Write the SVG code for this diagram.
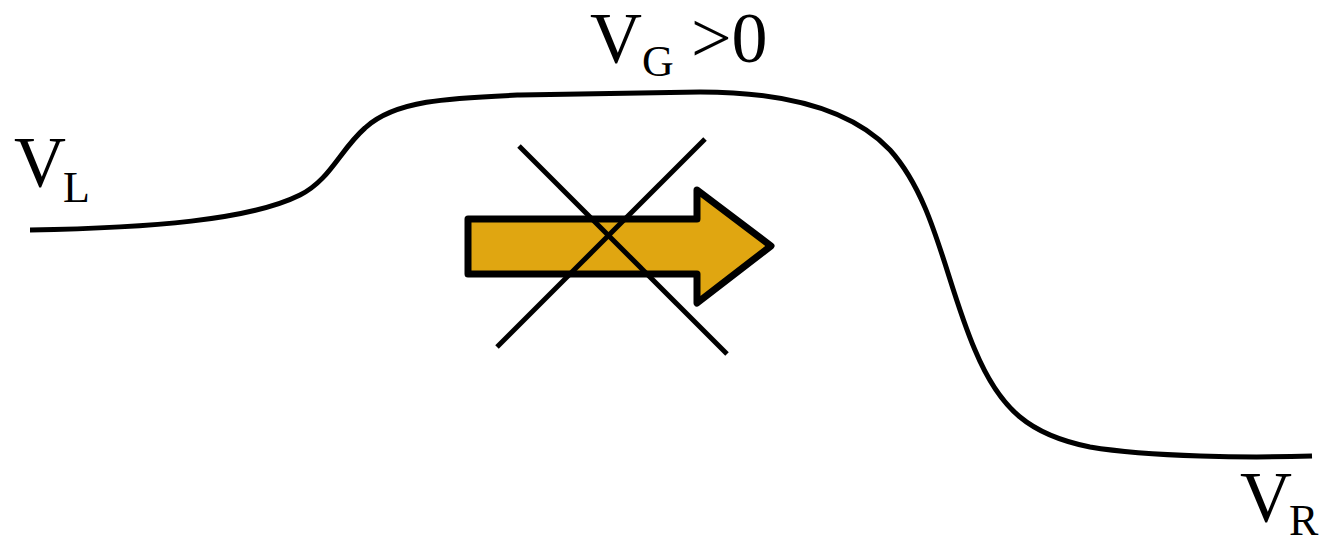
<svg xmlns="http://www.w3.org/2000/svg" width="1329" height="546" viewBox="0 0 1329 546">
<style>
.t{font-family:"Liberation Serif","DejaVu Serif",serif;fill:#000}
.big{font-size:72px}
.sub{font-size:44px}
.ln{fill:none;stroke:#000;stroke-width:5}
</style>
<rect width="1329" height="546" fill="#fff"/>
<g id="connectors">
<path id="potential" class="ln" d="M30,230 C150,228 250,220 300,195 C330,180 340,150 365,128 C395,100 450,98 520,95 L700,92 C780,92 850,108 890,150 C935,200 945,280 975,350 C1000,410 1030,435 1090,447 C1150,457 1250,458 1312,456"/>
</g>
<g id="arrow">
<path d="M468,219 L697,219 L697,190 L771,246 L697,303 L697,274 L468,274 Z" fill="#e0a611" stroke="#000" stroke-width="7" stroke-linejoin="round"/>
</g>
<g id="cross">
<line x1="519" y1="146" x2="727" y2="354" stroke="#000" stroke-width="5"/>
<line x1="705" y1="139" x2="497" y2="347" stroke="#000" stroke-width="5"/>
</g>
<g id="label-VL">
<text class="t big" x="14" y="186">V</text><text class="t sub" x="63" y="202">L</text>
</g>
<g id="label-VG">
<text class="t big" x="590" y="62">V</text><text class="t sub" x="642" y="76">G</text><text class="t big" x="691" y="62">&gt;0</text>
</g>
<g id="label-VR">
<text class="t big" x="1240" y="521">V</text><text class="t sub" x="1289" y="535">R</text>
</g>
</svg>
